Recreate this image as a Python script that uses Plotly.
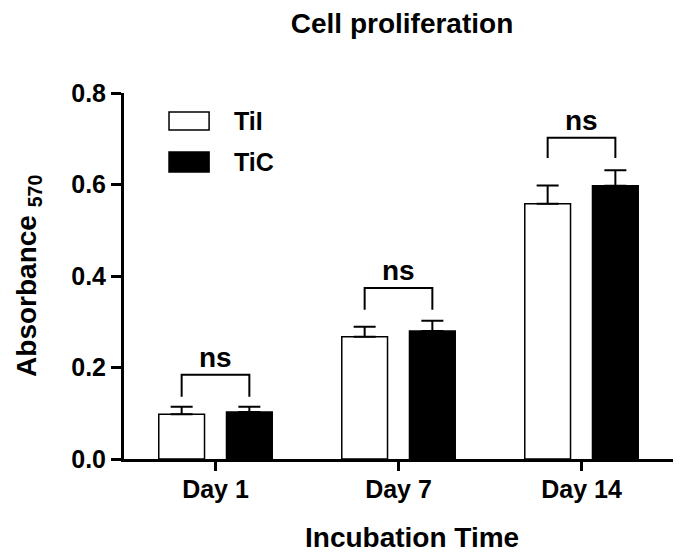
import plotly.graph_objects as go

# Data
days = ["Day 1", "Day 7", "Day 14"]
groups = ["TiI", "TiC"]
til_mean = [0.098, 0.267, 0.558]
til_err = [0.016, 0.022, 0.040]
tic_mean = [0.103, 0.280, 0.597]
tic_err = [0.011, 0.022, 0.034]
bracket_top = [0.184, 0.374, 0.702]
bracket_leg = [0.136, 0.326, 0.658]
sig_labels = ["ns", "ns", "ns"]
y_ticks = [0.0, 0.2, 0.4, 0.6, 0.8]

FONT = "Liberation Sans, Arial, sans-serif"
BAR_W = 0.25
OFFSETS = [-0.31, 0.06]
x_pos = list(range(len(days)))

# the page body keeps its default 8px margin, so the figure is drawn 8px smaller
W, H = 683 - 8, 556 - 8

fig = go.Figure()

for name, means, errs, fill, off in [
    (groups[0], til_mean, til_err, "white", OFFSETS[0]),
    (groups[1], tic_mean, tic_err, "black", OFFSETS[1]),
]:
    fig.add_trace(
        go.Bar(
            x=x_pos,
            y=means,
            name=name,
            width=BAR_W,
            offset=off,
            marker=dict(color=fill, line=dict(color="black", width=1.5)),
            error_y=dict(
                type="data",
                array=errs,
                arrayminus=[0] * len(errs),
                symmetric=False,
                color="black",
                thickness=2,
                width=11,
            ),
            showlegend=False,
        )
    )

# Significance brackets between the bar centres of each day
left = OFFSETS[0] + BAR_W / 2
right = OFFSETS[1] + BAR_W / 2
bx, by = [], []
for x, top, leg in zip(x_pos, bracket_top, bracket_leg):
    bx += [x + left, x + left, x + right, x + right, None]
    by += [leg, top, top, leg, None]
fig.add_trace(
    go.Scatter(x=bx, y=by, mode="lines", line=dict(color="black", width=2),
               showlegend=False, hoverinfo="skip")
)
for x, top, txt in zip(x_pos, bracket_top, sig_labels):
    fig.add_annotation(x=x + (left + right) / 2, y=top, text=f"<b>{txt}</b>",
                       showarrow=False, yanchor="bottom", yshift=0,
                       font=dict(family=FONT, size=28, color="black"))

# Hand-drawn legend with large swatches
for (y0, y1, fill, ty, name) in [
    (0.899, 0.948, "white", 0.923, groups[0]),
    (0.784, 0.839, "black", 0.811, groups[1]),
]:
    fig.add_shape(type="rect", xref="paper", yref="paper", x0=0.082, x1=0.155,
                  y0=y0, y1=y1, fillcolor=fill, line=dict(color="black", width=1.5))
    fig.add_annotation(xref="paper", yref="paper", x=0.197, y=ty, text=f"<b>{name}</b>",
                       showarrow=False, xanchor="left", yanchor="middle",
                       font=dict(family=FONT, size=25, color="black"))

# Axis titles placed as annotations
fig.add_annotation(xref="paper", yref="paper", x=0.525, y=-0.215, text="<b>Incubation Time</b>",
                   showarrow=False, xanchor="center", yanchor="middle",
                   font=dict(family=FONT, size=28, color="black"))
fig.add_annotation(xref="paper", yref="paper", x=-0.175, y=0.5, textangle=-90,
                   text="<b>Absorbance <sub>570</sub></b>",
                   showarrow=False, xanchor="center", yanchor="middle",
                   font=dict(family=FONT, size=28, color="black"))

fig.update_layout(
    width=W,
    height=H,
    barmode="overlay",
    plot_bgcolor="white",
    paper_bgcolor="white",
    margin=dict(l=116, r=10, t=85, b=97, autoexpand=False),
    font=dict(family=FONT, color="black"),
    title=dict(text="<b>Cell proliferation</b>", x=394 / W, xref="container", xanchor="center",
               y=1 - 15 / H, yref="container", yanchor="middle",
               font=dict(family=FONT, size=28, color="black")),
)
fig.update_xaxes(
    range=[-0.5, 2.5],
    automargin=False,
    tickvals=x_pos,
    ticktext=[f"<b>{d}</b>" for d in days],
    tickfont=dict(family=FONT, size=25, color="black"),
    ticklabelstandoff=-3,
    showline=True, linecolor="black", linewidth=3,
    ticks="outside", ticklen=9, tickwidth=3, tickcolor="black",
    showgrid=False, zeroline=False,
)
fig.update_yaxes(
    range=[0, 0.8],
    automargin=False,
    tickvals=y_ticks,
    ticktext=[f"<b>{v:.1f}</b>" for v in y_ticks],
    tickfont=dict(family=FONT, size=25, color="black"),
    showline=True, linecolor="black", linewidth=3,
    ticks="outside", ticklen=10, tickwidth=3, tickcolor="black",
    showgrid=False, zeroline=False,
)

fig.write_html("out.html")
